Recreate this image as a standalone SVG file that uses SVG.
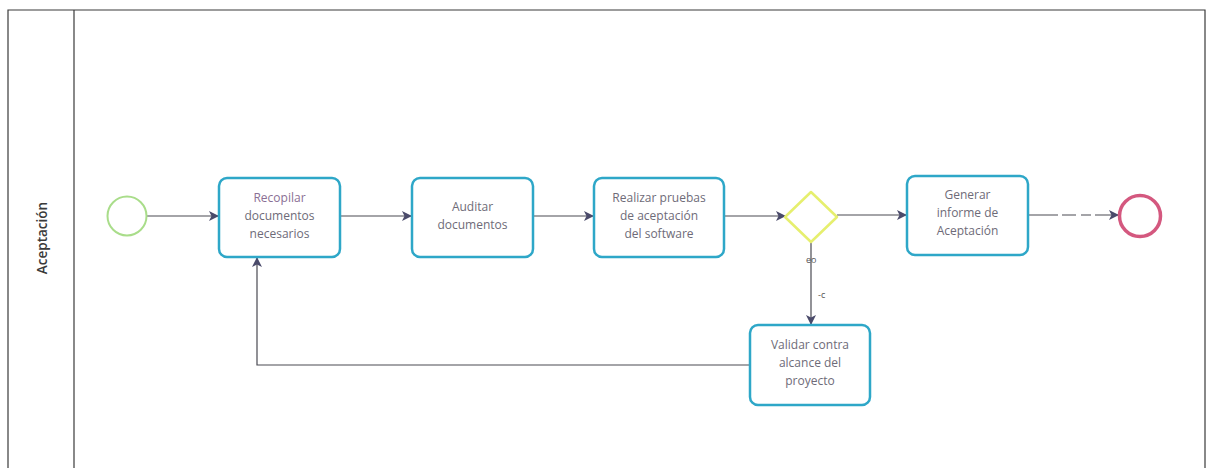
<svg xmlns="http://www.w3.org/2000/svg" width="1206" height="468" viewBox="0 0 1206 468">
  <style>
    .pool { fill: #ffffff; stroke: #3a3a3a; stroke-width: 1.2; }
    .lane-title { font-family: "Open Sans", "Liberation Sans", sans-serif; font-size: 13.5px; font-weight: 600; fill: #3a3a3a; }
    .task { fill: #ffffff; stroke: #2ea7c8; stroke-width: 2.5; }
    .label { font-family: "Open Sans", "Liberation Sans", sans-serif; font-size: 12px; fill: #6e6b78; text-anchor: middle; }
    .flow { fill: none; stroke: #4a4a52; stroke-width: 1.2; }
    .tiny { font-family: "Open Sans", "Liberation Sans", sans-serif; font-size: 9px; fill: #555; }
  </style>
  <defs>
    <marker id="arrow" viewBox="0 0 10 10" refX="9" refY="5" markerWidth="10" markerHeight="10" markerUnits="userSpaceOnUse" orient="auto">
      <path d="M0,0 L10,5 L0,10 L2.5,5 Z" fill="#4a4a6a"/>
    </marker>
  </defs>

  <rect width="1206" height="468" fill="#ffffff"/>

  <!-- pool with one lane -->
  <g id="pool">
    <path class="pool" d="M8,475 L8,10 L1205,10 L1205,475"/>
    <line x1="74" y1="10" x2="74" y2="475" stroke="#3a3a3a" stroke-width="1.2"/>
    <text class="lane-title" transform="translate(47,238) rotate(-90)" text-anchor="middle">Aceptación</text>
  </g>

  <!-- sequence flows -->
  <g id="connectors">
    <line class="flow" x1="147" y1="216" x2="218" y2="216" marker-end="url(#arrow)"/>
    <line class="flow" x1="340" y1="216" x2="411" y2="216" marker-end="url(#arrow)"/>
    <line class="flow" x1="533" y1="216" x2="593" y2="216" marker-end="url(#arrow)"/>
    <line class="flow" x1="724" y1="216" x2="785" y2="216" marker-end="url(#arrow)"/>
    <line class="flow" x1="837" y1="215" x2="906" y2="215" marker-end="url(#arrow)"/>
    <line class="flow" x1="1028" y1="215" x2="1118" y2="215" stroke-dasharray="30 4 14 5 10 4" marker-end="url(#arrow)"/>
    <line class="flow" x1="811" y1="242" x2="811" y2="324" marker-end="url(#arrow)"/>
    <path class="flow" d="M750,365 L257,365 L257,258" marker-end="url(#arrow)"/>
    <text class="tiny" x="806" y="263">eo</text>
    <text class="tiny" x="818" y="298">-c</text>
  </g>

  <g id="start">
    <circle cx="127" cy="216" r="19.5" fill="#ffffff" stroke="#a9dd8a" stroke-width="2"/>
  </g>

  <g id="task-recopilar">
    <rect class="task" x="219" y="178" width="121" height="79" rx="8"/>
    <text class="label" x="279.5" y="202" style="fill:#8a6f94">Recopilar</text>
    <text class="label" x="279.5" y="220">documentos</text>
    <text class="label" x="279.5" y="238">necesarios</text>
  </g>

  <g id="task-auditar">
    <rect class="task" x="412" y="178" width="121" height="79" rx="8"/>
    <text class="label" x="472.5" y="211">Auditar</text>
    <text class="label" x="472.5" y="229">documentos</text>
  </g>

  <g id="task-pruebas">
    <rect class="task" x="594" y="178" width="130" height="79" rx="8"/>
    <text class="label" x="659" y="202">Realizar pruebas</text>
    <text class="label" x="659" y="220">de aceptación</text>
    <text class="label" x="659" y="238">del software</text>
  </g>

  <g id="gateway">
    <path d="M811,192 L837,217 L811,242 L785,217 Z" fill="#ffffff" stroke="#e6ef6e" stroke-width="2.5" stroke-linejoin="round"/>
  </g>

  <g id="task-informe">
    <rect class="task" x="907" y="176" width="121" height="79" rx="8"/>
    <text class="label" x="967.5" y="199">Generar</text>
    <text class="label" x="967.5" y="217">informe de</text>
    <text class="label" x="967.5" y="235">Aceptación</text>
  </g>

  <g id="end">
    <circle cx="1140" cy="216" r="20.5" fill="#ffffff" stroke="#d4587f" stroke-width="3.5"/>
  </g>

  <g id="task-validar">
    <rect class="task" x="750" y="325" width="120" height="80" rx="8"/>
    <text class="label" x="810" y="349">Validar contra</text>
    <text class="label" x="810" y="367">alcance del</text>
    <text class="label" x="810" y="385">proyecto</text>
  </g>
</svg>
